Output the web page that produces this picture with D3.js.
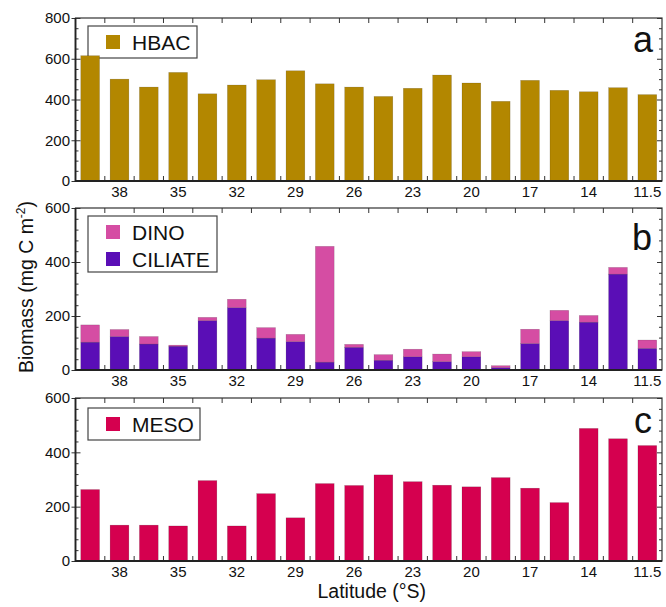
<!DOCTYPE html>
<html>
<head>
<meta charset="utf-8">
<script src="https://cdn.jsdelivr.net/npm/d3@7/dist/d3.min.js"></script>
<style>
  html, body { margin: 0; padding: 0; background: #fff; }
  svg { display: block; font-family: "Liberation Sans", Arial, Helvetica, sans-serif; }
</style>
</head>
<body>
<svg id="chart" width="666" height="607"></svg>
<script>
// Station latitudes (°S), north-bound transect
const latitudes = ["39.5","38","36.5","35","33.5","32","30.5","29","27.5","26",
                   "24.5","23","21.5","20","18.5","17","15.5","14","12.5","11.5"];
const tickLabels = ["38","35","32","29","26","23","20","17","14","11.5"];

// Depth-integrated biomass (mg C m^-2)
const hbac    = [615,500,461,533,428,471,497,541,477,461,415,455,520,481,391,494,445,438,458,424];
const ciliate = [103,124,96,88,183,231,118,105,29,84,36,49,31,49,9,98,183,177,355,80];
const dinoTot = [167,150,124,92,195,262,157,132,458,95,57,77,59,68,16,151,221,202,380,111];
const dino    = dinoTot.map((t, i) => t - ciliate[i]);
const meso    = [263,132,132,129,296,129,248,159,285,278,317,292,279,273,307,268,215,488,450,425];

const colors = { HBAC: "#B38700", DINO: "#D54DA3", CILIATE: "#5A0EB6", MESO: "#D5004F" };

const svg = d3.select("#chart");
const X0 = 75.5, X1 = 662;

const x = d3.scaleBand()
  .domain(latitudes)
  .range([X0, X1])
  .paddingInner(0.36)
  .paddingOuter(0.18);

const panels = [
  { id: "a", top: 18,  bottom: 181, max: 800, minor: 50,
    legendTop: 8, legendW: 109, letterX: 633, letterY: 52,
    layers: [{ name: "HBAC", values: hbac, base: null }],
    legend: ["HBAC"] },
  { id: "b", top: 208, bottom: 370, max: 600, minor: 40,
    legendTop: 8, legendW: 129, letterX: 632, letterY: 250,
    layers: [{ name: "CILIATE", values: ciliate, base: null },
             { name: "DINO", values: dino, base: ciliate }],
    legend: ["DINO", "CILIATE"] },
  { id: "c", top: 398, bottom: 561, max: 600, minor: 40,
    legendTop: 10, legendW: 112, letterX: 634, letterY: 433,
    layers: [{ name: "MESO", values: meso, base: null }],
    legend: ["MESO"] }
];

const step = x.step();
const gap = step - x.bandwidth();
const boundaries = latitudes.slice(1).map(c => x(c) - gap / 2);

panels.forEach(p => {
  const y = d3.scaleLinear().domain([0, p.max]).range([p.bottom, p.top]);
  const g = svg.append("g").attr("class", "panel-" + p.id);

  // legend (drawn beneath the bars)
  const lx = 88, ly = p.top + p.legendTop;
  const rowH = 27;
  const lh = p.legend.length === 1 ? 32 : 56;
  const lg = g.append("g");
  lg.append("rect")
    .attr("x", lx).attr("y", ly).attr("width", p.legendW).attr("height", lh)
    .attr("fill", "none").attr("stroke", "#444").attr("stroke-width", 1.2);
  p.legend.forEach((name, i) => {
    const sy = ly + 9 + i * rowH;
    lg.append("rect")
      .attr("x", lx + 18).attr("y", sy).attr("width", 14).attr("height", 14)
      .attr("fill", colors[name]);
    lg.append("text")
      .attr("x", lx + 44).attr("y", sy + 14.5)
      .attr("fill", "#111")
      .style("font-size", "21px")
      .text(name);
  });

  // bars
  p.layers.forEach(layer => {
    g.append("g").selectAll("rect")
      .data(layer.values.map((v, i) => ({ cat: latitudes[i], v, b: layer.base ? layer.base[i] : 0 })))
      .join("rect")
      .attr("x", d => x(d.cat))
      .attr("width", x.bandwidth())
      .attr("y", d => y(d.b + d.v))
      .attr("height", d => y(d.b) - y(d.b + d.v))
      .attr("fill", colors[layer.name])
      .attr("stroke", "rgba(0,0,0,0.25)")
      .attr("stroke-width", 0.5);
  });

  // y ticks: majors and minors, inward on both sides, majors also outward on the left
  const majors = d3.range(0, p.max + 1, 200);
  const minors = d3.range(0, p.max + 1, p.minor).filter(v => v % 200 !== 0);

  const tickStyle = sel => {
    sel.select(".domain").remove();
    sel.selectAll("line").attr("stroke", "#333").attr("stroke-width", 1);
    sel.selectAll("text").remove();
  };
  g.append("g").attr("transform", `translate(${X0},0)`)
    .call(d3.axisRight(y).tickValues(majors).tickSize(5)).call(tickStyle);
  g.append("g").attr("transform", `translate(${X0},0)`)
    .call(d3.axisRight(y).tickValues(minors).tickSize(3)).call(tickStyle);
  g.append("g").attr("transform", `translate(${X0},0)`)
    .call(d3.axisLeft(y).tickValues(majors).tickSize(4)).call(tickStyle);
  g.append("g").attr("transform", `translate(${X1},0)`)
    .call(d3.axisLeft(y).tickValues(majors).tickSize(5)).call(tickStyle);
  g.append("g").attr("transform", `translate(${X1},0)`)
    .call(d3.axisLeft(y).tickValues(minors).tickSize(3)).call(tickStyle);

  // y labels
  g.append("g").attr("transform", `translate(${X0},0)`)
    .call(d3.axisLeft(y).tickValues(majors).tickSize(0).tickPadding(5.5))
    .call(sel => {
      sel.select(".domain").remove();
      sel.selectAll("text").attr("fill", "#111").style("font-size", "15px")
        .style("font-family", "'Liberation Sans', Arial, sans-serif");
    });

  // x ticks at band boundaries, inward from top and bottom
  g.append("g").selectAll("line.bt")
    .data(boundaries).join("line")
    .attr("x1", d => d).attr("x2", d => d)
    .attr("y1", p.bottom).attr("y2", p.bottom - 5)
    .attr("stroke", "#333").attr("stroke-width", 1);
  g.append("g").selectAll("line.tt")
    .data(boundaries).join("line")
    .attr("x1", d => d).attr("x2", d => d)
    .attr("y1", p.top).attr("y2", p.top + 5)
    .attr("stroke", "#333").attr("stroke-width", 1);

  // x labels on every second station
  const labelled = latitudes.filter((c, i) => i % 2 === 1);
  g.append("g").attr("transform", `translate(0,${p.bottom})`)
    .call(d3.axisBottom(x).tickValues(labelled).tickSize(0).tickPadding(5)
      .tickFormat((d, i) => tickLabels[i]))
    .call(sel => {
      sel.select(".domain").remove();
      sel.selectAll("text").attr("fill", "#111").style("font-size", "15px")
        .style("font-family", "'Liberation Sans', Arial, sans-serif");
    });

  // frame
  g.append("rect")
    .attr("x", X0).attr("y", p.top)
    .attr("width", X1 - X0).attr("height", p.bottom - p.top)
    .attr("fill", "none").attr("stroke", "#333").attr("stroke-width", 1.2);
  g.append("path")
    .attr("d", `M${X0},${p.top}V${p.bottom}H${X1}`)
    .attr("fill", "none").attr("stroke", "#222").attr("stroke-width", 1.8);

  // panel letter
  g.append("text")
    .attr("x", p.letterX).attr("y", p.letterY)
    .attr("fill", "#111")
    .style("font-size", "36px")
    .text(p.id);
});

// axis titles
svg.append("text")
  .attr("x", (X0 + X1) / 2 + 3).attr("y", 598)
  .attr("text-anchor", "middle")
  .attr("fill", "#111")
  .style("font-size", "19.5px")
  .text("Latitude (°S)");

const yt = svg.append("text")
  .attr("transform", "translate(33,287) rotate(-90)")
  .attr("text-anchor", "middle")
  .attr("fill", "#111")
  .style("font-size", "19.5px");
yt.append("tspan").text("Biomass (mg C m");
yt.append("tspan").attr("dy", -8).style("font-size", "12px").text("-2");
yt.append("tspan").attr("dy", 8).text(")");
</script>
</body>
</html>
